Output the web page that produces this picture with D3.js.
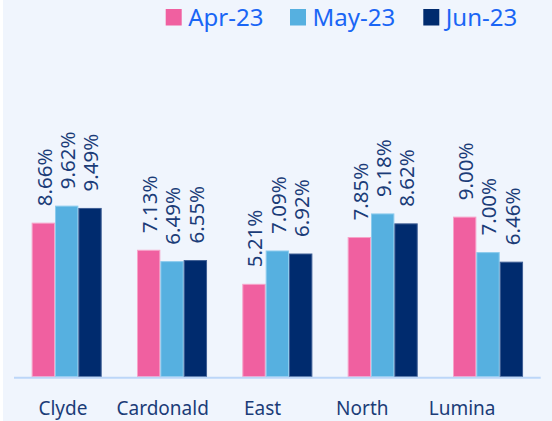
<!DOCTYPE html>
<html>
<head>
<meta charset="utf-8">
<script src="https://cdn.jsdelivr.net/npm/d3@7"></script>
<style>
  html, body { margin: 0; padding: 0; background: #ffffff; }
  svg { display: block; }
  text { font-family: "Noto Sans", "Open Sans", sans-serif; }
</style>
</head>
<body>
<svg id="chart" width="552" height="421"></svg>
<script>
const categories = ["Clyde", "Cardonald", "East", "North", "Lumina"];
const seriesNames = ["Apr-23", "May-23", "Jun-23"];
const apr23 = [8.66, 7.13, 5.21, 7.85, 9.00];
const may23 = [9.62, 6.49, 7.09, 9.18, 7.00];
const jun23 = [9.49, 6.55, 6.92, 8.62, 6.46];
const seriesValues = [apr23, may23, jun23];
const colors = ["#f060a0", "#56b0e0", "#002b6e"];
const strokes = ["#f7a3c9", "#8ccbed", "#3f5f95"];

const svg = d3.select("#chart");
const W = 552, H = 421;

svg.append("rect").attr("x", 3).attr("y", 0).attr("width", W - 3).attr("height", H)
  .attr("fill", "#f0f5fd");

const baseY = 376.7;
const x0 = d3.scaleBand().domain(categories).range([14, 540.7])
  .paddingInner(0.335).paddingOuter(0.1675);
const x1 = d3.scaleBand().domain(seriesNames).range([0, x0.bandwidth()]).padding(0);
const y = d3.scaleLinear().domain([0, 12]).range([baseY, baseY - 12 * 17.73]);

// label scale for category names (slightly offset in the original)
const xLab = d3.scaleBand().domain(categories).range([13, 512]);

const groups = svg.selectAll("g.grp").data(categories).join("g")
  .attr("class", "grp")
  .attr("transform", d => `translate(${x0(d)},0)`);

groups.each(function(cat, ci) {
  const g = d3.select(this);
  seriesNames.forEach((s, si) => {
    const v = seriesValues[si][ci];
    g.append("rect")
      .attr("x", x1(s) + 0.5)
      .attr("y", y(v))
      .attr("width", x1.bandwidth() - 1)
      .attr("height", baseY - y(v))
      .attr("fill", colors[si])
      .attr("stroke", strokes[si])
      .attr("stroke-width", 1);
    const cx = x1(s) + x1.bandwidth() / 2;
    g.append("text")
      .attr("transform", `translate(${cx + 1},${y(v) - 17}) rotate(-90)`)
      .attr("dy", "0.36em")
      .attr("text-anchor", "start")
      .attr("font-size", 20.5)
      .attr("fill", "#1b3c78")
      .text(v.toFixed(2) + "%");
  });
});

// axis line
svg.append("line").attr("x1", 14).attr("x2", 540.7).attr("y1", baseY + 1).attr("y2", baseY + 1)
  .attr("stroke", "#bcd6f8").attr("stroke-width", 2);

// category labels
svg.selectAll("text.cat").data(categories).join("text")
  .attr("class", "cat")
  .attr("x", d => xLab(d) + xLab.bandwidth() / 2)
  .attr("y", 415)
  .attr("text-anchor", "middle")
  .attr("font-size", 19)
  .attr("fill", "#1b3c78")
  .text(d => d);

// legend
const legendX = [165.7, 290, 423.3];
const leg = svg.selectAll("g.leg").data(seriesNames).join("g")
  .attr("class", "leg")
  .attr("transform", (d, i) => `translate(${legendX[i]},9)`);
leg.append("rect").attr("width", 16).attr("height", 16.5).attr("fill", (d, i) => colors[i]);
leg.append("text").attr("x", 22.5).attr("y", 17).attr("font-size", 24)
  .attr("fill", "#1a66f5").text(d => d);
</script>
</body>
</html>
